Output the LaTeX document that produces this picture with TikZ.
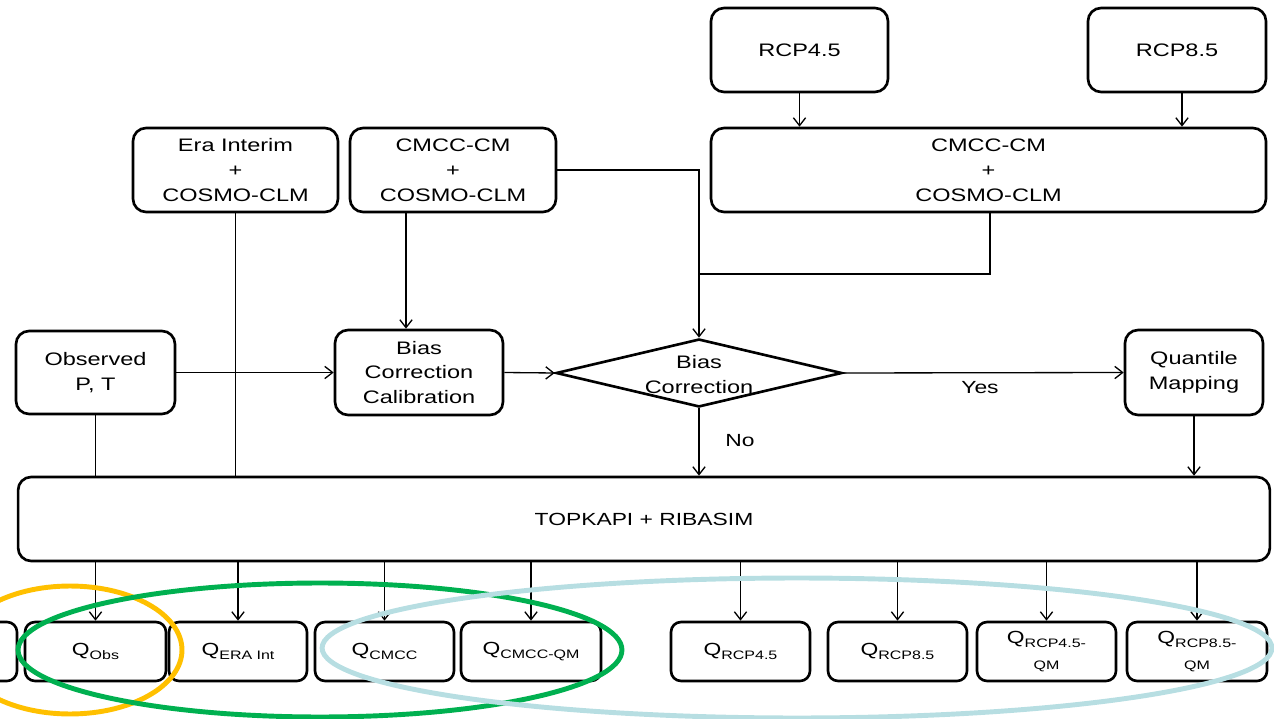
\documentclass[tikz,border=0pt]{standalone}
\usepackage{fontspec}
\setmainfont{Liberation Sans}[FakeStretch=1.3]
\usetikzlibrary{arrows.meta,shapes.geometric}
\definecolor{ovalgold}{RGB}{255,192,0}
\definecolor{ovalgreen}{RGB}{0,176,80}
\definecolor{ovalcyan}{RGB}{183,222,226}
% discharge symbol with a lowered subscript
\newcommand{\Qsub}[1]{Q\raisebox{-0.45ex}{\fontsize{7}{8}\selectfont #1}}
\newcommand{\smalltag}[1]{{\fontsize{7}{8}\selectfont #1}}

\begin{document}
\begin{tikzpicture}[x=0.02cm,y=-0.02cm,
  box/.style={draw, line width=1.5pt, rounded corners=0.26cm, align=center,
              inner sep=0pt, font=\fontsize{10.3}{14.2}\selectfont},
  bigbox/.style={box, minimum height=1.68cm},
  outbox/.style={box, rounded corners=0.2cm, minimum height=1.18cm,
                 font=\fontsize{10}{12}\selectfont},
  link/.style={line width=0.75pt},
  arrow/.style={link, -{Straight Barb[length=4.5pt,width=7pt]}},
  oval/.style={line width=2.8pt},
  lbl/.style={font=\fontsize{10}{12}\selectfont, inner sep=0pt}]

\useasboundingbox (0,0) rectangle (1274,719);
\clip (0,0) rectangle (1274,719);

% scenario and model boxes
\node[bigbox, minimum width=3.54cm] (rcp45) at (799.5,50) {RCP4.5};
\node[bigbox, minimum width=3.56cm] (rcp85) at (1177,50) {RCP8.5};
\node[bigbox, minimum width=11.1cm] (cmccR) at (988.5,170) {CMCC-CM\\+\\COSMO-CLM};
\node[bigbox, minimum width=4.1cm]  (era)   at (235.5,170) {Era Interim\\+\\COSMO-CLM};
\node[bigbox, minimum width=4.12cm] (cmccL) at (453,170) {CMCC-CM\\+\\COSMO-CLM};

% middle row
\node[box, minimum width=3.18cm, minimum height=1.66cm] (obs) at (95.5,372.5) {Observed\\P, T};
\node[box, minimum width=3.36cm, minimum height=1.7cm] (bcc) at (419,372.5) {Bias\\Correction\\Calibration};
\node[draw, diamond, line width=1.5pt, minimum width=5.72cm, minimum height=1.36cm,
      inner sep=0pt] (dia) at (699,373) {};
\node[lbl, align=center, font=\fontsize{10.3}{14.2}\selectfont] (diatext) at (699,375) {Bias\\Correction};
\node[box, minimum width=2.76cm, minimum height=1.7cm] (qm) at (1194,372.5) {Quantile\\Mapping};

% hydrological model
\node[bigbox, minimum width=25.04cm, font=\fontsize{10}{12}\selectfont] (topk) at (644,519) {TOPKAPI + RIBASIM};

% discharge outputs
\draw[line width=1.5pt, rounded corners=0.2cm] (-130,622) rectangle (17,681);
\node[outbox, minimum width=2.82cm] (qobs)   at (95.5,651.5)  {\Qsub{Obs}};
\node[outbox, minimum width=2.76cm] (qera)   at (238,651.5)   {\Qsub{ERA Int}};
\node[outbox, minimum width=2.78cm] (qcmcc)  at (384.5,651.5) {\Qsub{CMCC}};
\node[outbox, minimum width=2.8cm]  (qcmqm)  at (531,651.5)   {\Qsub{CMCC-QM}};
\node[outbox, minimum width=2.78cm] (qr45)   at (740.5,651.5) {\Qsub{RCP4.5}};
\node[outbox, minimum width=2.78cm] (qr85)   at (897.5,651.5) {\Qsub{RCP8.5}};
\node[outbox, minimum width=2.78cm] (qr45qm) at (1046.5,651.5) {\Qsub{RCP4.5-}\\[3pt]\smalltag{QM}};
\node[outbox, minimum width=2.8cm]  (qr85qm) at (1197,651.5)  {\Qsub{RCP8.5-}\\[3pt]\smalltag{QM}};

% helper coordinates for off-centre connectors
\coordinate (xbcc) at (406,0);
\coordinate (xr85) at (1182,0);
\coordinate (xcm)  at (990,0);
\coordinate (yjoin) at (0,274);

% connectors
\draw[arrow] (rcp45.south) -- (rcp45.south |- cmccR.north);
\draw[arrow] (rcp85.south -| xr85) -- (cmccR.north -| xr85);
\draw[arrow] (cmccL.south -| xbcc) -- (bcc.north -| xbcc);
\draw[arrow] (cmccL.east) -| (dia.north);
\draw[link]  (cmccR.south -| xcm) |- (dia.north |- yjoin);
\draw[link]  (obs.south) -- (obs.south |- topk.north);
\draw[link]  (era.south) -- (era.south |- topk.north);
\draw[arrow] (obs.east) -- (bcc.west);
\draw[arrow] (bcc.east) -- (dia.west);
\draw[arrow] (dia.east) -- (qm.west);
\draw[arrow] (dia.south) -- (dia.south |- topk.north);
\draw[arrow] (qm.south) -- (qm.south |- topk.north);
\node[lbl] (yes) at (980,388) {Yes};
\node[lbl] (no)  at (740,441) {No};

\foreach \q in {qobs,qera,qcmcc,qcmqm,qr45,qr85,qr45qm,qr85qm}
  \draw[arrow] (\q.north |- topk.south) -- (\q.north);

% grouping ovals
\draw[oval, ovalgold]  (70,650)  ellipse [x radius=2.24cm, y radius=1.28cm];
\draw[oval, ovalgreen] (320,650) ellipse [x radius=6.04cm, y radius=1.34cm];
\draw[oval, ovalcyan]  (797,648) ellipse [x radius=9.5cm,  y radius=1.4cm];
\end{tikzpicture}
\end{document}
